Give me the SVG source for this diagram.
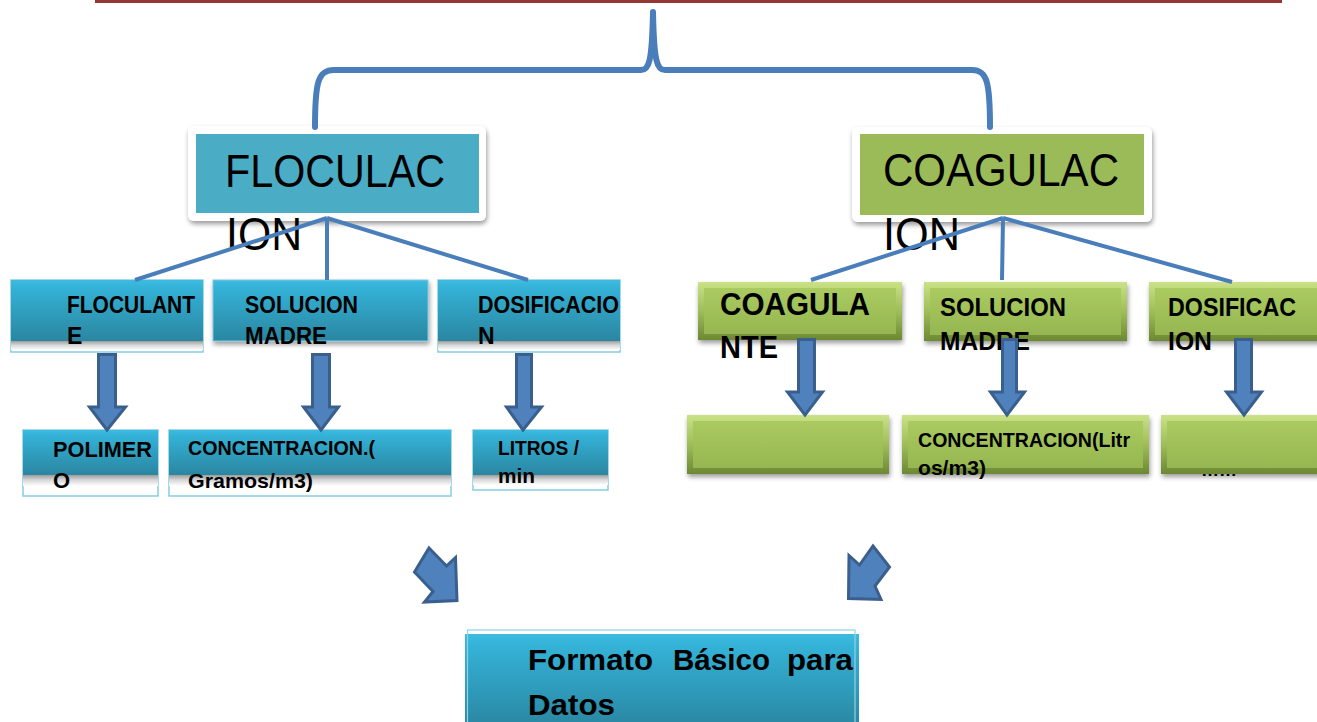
<svg xmlns="http://www.w3.org/2000/svg" width="1317" height="722" viewBox="0 0 1317 722">
<defs>
<style>
.b{font-family:"Liberation Sans",Arial,sans-serif;font-weight:bold;fill:#000}
.r{font-family:"Liberation Sans",Arial,sans-serif;fill:#000}
.frame{fill:#fff;stroke:#86cde4;stroke-width:1.5}
.ln{fill:none;stroke:#4a7ebb;stroke-width:4;stroke-linecap:butt}
.arr{fill:#4f81bd;stroke:#3a5f8c;stroke-width:3;stroke-linejoin:miter}
</style>
<linearGradient id="teal" x1="0" y1="0" x2="0" y2="1">
<stop offset="0" stop-color="#3fbbe0"/>
<stop offset="0.12" stop-color="#34b2d7"/>
<stop offset="1" stop-color="#2a86a1"/>
</linearGradient>
<linearGradient id="band" x1="0" y1="0" x2="0" y2="1">
<stop offset="0" stop-color="#9c9c9c"/>
<stop offset="0.45" stop-color="#d6d6d6"/>
<stop offset="1" stop-color="#ffffff"/>
</linearGradient>
<linearGradient id="gOut" x1="0" y1="0" x2="0" y2="1">
<stop offset="0" stop-color="#c9e286"/>
<stop offset="0.5" stop-color="#9ebe59"/>
<stop offset="1" stop-color="#6c8832"/>
</linearGradient>
<linearGradient id="gIn" x1="0" y1="0" x2="0" y2="1">
<stop offset="0" stop-color="#aacb60"/>
<stop offset="1" stop-color="#96b651"/>
</linearGradient>
<filter id="sh" x="-10%" y="-20%" width="125%" height="160%">
<feGaussianBlur in="SourceAlpha" stdDeviation="2.5"/>
<feOffset dx="1" dy="3"/>
<feComponentTransfer><feFuncA type="linear" slope="0.4"/></feComponentTransfer>
<feMerge><feMergeNode/><feMergeNode in="SourceGraphic"/></feMerge>
</filter>
</defs>

<rect width="1317" height="722" fill="#fff"/>
<line x1="95" y1="1.5" x2="1282" y2="1.5" stroke="#943634" stroke-width="3"/>

<g id="floculacion">
<rect x="188" y="126" width="298" height="95" rx="6" fill="#fff" filter="url(#sh)"/>
<rect x="196" y="134" width="283" height="79" fill="#4bacc6"/>
<text class="r" x="225" y="187" font-size="46" textLength="220" lengthAdjust="spacingAndGlyphs">FLOCULAC</text>
<text class="r" x="226" y="250" font-size="46" textLength="76" lengthAdjust="spacingAndGlyphs">ION</text>
</g>

<g id="coagulacion">
<rect x="852" y="127" width="300" height="95" rx="6" fill="#fff" filter="url(#sh)"/>
<rect x="860" y="134" width="284" height="81" fill="#9bbb59"/>
<text class="r" x="883" y="186" font-size="46" textLength="236" lengthAdjust="spacingAndGlyphs">COAGULAC</text>
<text class="r" x="883" y="250" font-size="46" textLength="77" lengthAdjust="spacingAndGlyphs">ION</text>
</g>

<g id="floculante">
<rect class="frame" x="11" y="280" width="192" height="72"/>
<rect x="11" y="280" width="192" height="61" fill="url(#teal)"/>
<rect x="11" y="341" width="192" height="9" fill="url(#band)"/>
<text class="b" x="67" y="313" font-size="23" textLength="128" lengthAdjust="spacingAndGlyphs">FLOCULANT</text>
<text class="b" x="67" y="344" font-size="23">E</text>
</g>

<g id="solucion-madre-f">
<rect x="213" y="280" width="215" height="61" fill="url(#teal)" stroke="#7fc8df" stroke-width="1" filter="url(#sh)"/>
<text class="b" x="245" y="313" font-size="23" textLength="113" lengthAdjust="spacingAndGlyphs">SOLUCION</text>
<text class="b" x="245" y="344" font-size="23" textLength="82" lengthAdjust="spacingAndGlyphs">MADRE</text>
</g>

<g id="dosificacion-f">
<rect class="frame" x="438" y="280" width="182" height="72"/>
<rect x="438" y="280" width="182" height="61" fill="url(#teal)"/>
<rect x="438" y="341" width="182" height="9" fill="url(#band)"/>
<text class="b" x="478" y="313" font-size="23" textLength="141" lengthAdjust="spacingAndGlyphs">DOSIFICACIO</text>
<text class="b" x="478" y="344" font-size="23">N</text>
</g>

<g id="polimero">
<rect class="frame" x="23" y="430" width="135" height="66"/>
<rect x="23" y="430" width="135" height="45" fill="url(#teal)"/>
<rect x="23" y="475" width="135" height="11" fill="url(#band)"/>
<text class="b" x="53" y="457" font-size="22" textLength="99" lengthAdjust="spacingAndGlyphs">POLIMER</text>
<text class="b" x="53" y="488" font-size="22">O</text>
</g>

<g id="concentracion-f">
<rect class="frame" x="169" y="430" width="282" height="66"/>
<rect x="169" y="430" width="282" height="45" fill="url(#teal)"/>
<rect x="169" y="475" width="282" height="11" fill="url(#band)"/>
<text class="b" x="188" y="455" font-size="21" textLength="187" lengthAdjust="spacingAndGlyphs">CONCENTRACION.(</text>
<text class="b" x="188" y="488" font-size="21" textLength="125" lengthAdjust="spacingAndGlyphs">Gramos/m3)</text>
</g>

<g id="litros">
<rect class="frame" x="473" y="430" width="135" height="60"/>
<rect x="473" y="430" width="135" height="45" fill="url(#teal)"/>
<rect x="473" y="475" width="135" height="10" fill="url(#band)"/>
<text class="b" x="498" y="455" font-size="21" textLength="81" lengthAdjust="spacingAndGlyphs">LITROS /</text>
<text class="b" x="498" y="483" font-size="21" textLength="37" lengthAdjust="spacingAndGlyphs">min</text>
</g>

<g id="coagulante">
<g filter="url(#sh)">
<rect x="698" y="282" width="204" height="58" fill="url(#gOut)"/>
<rect x="704" y="288" width="192" height="46" fill="url(#gIn)"/>
</g>
<text class="b" x="720" y="315" font-size="31" textLength="150" lengthAdjust="spacingAndGlyphs">COAGULA</text>
<text class="b" x="720" y="358" font-size="31" textLength="58" lengthAdjust="spacingAndGlyphs">NTE</text>
</g>

<g id="solucion-madre-c">
<g filter="url(#sh)">
<rect x="924" y="282" width="203" height="59" fill="url(#gOut)"/>
<rect x="930" y="288" width="191" height="47" fill="url(#gIn)"/>
</g>
<text class="b" x="940" y="316" font-size="25" textLength="126" lengthAdjust="spacingAndGlyphs">SOLUCION</text>
<text class="b" x="940" y="350" font-size="25" textLength="90" lengthAdjust="spacingAndGlyphs">MADRE</text>
</g>

<g id="dosificacion-c">
<g filter="url(#sh)">
<rect x="1149" y="282" width="180" height="59" fill="url(#gOut)"/>
<rect x="1155" y="288" width="168" height="47" fill="url(#gIn)"/>
</g>
<text class="b" x="1168" y="316" font-size="25" textLength="128" lengthAdjust="spacingAndGlyphs">DOSIFICAC</text>
<text class="b" x="1168" y="350" font-size="25" textLength="44" lengthAdjust="spacingAndGlyphs">ION</text>
</g>

<g id="coagulante-valor">
<g filter="url(#sh)">
<rect x="687" y="415" width="202" height="59" fill="url(#gOut)"/>
<rect x="693" y="421" width="190" height="47" fill="url(#gIn)"/>
</g>
</g>

<g id="concentracion-c">
<g filter="url(#sh)">
<rect x="902" y="415" width="247" height="59" fill="url(#gOut)"/>
<rect x="908" y="421" width="235" height="47" fill="url(#gIn)"/>
</g>
<text class="b" x="918" y="447" font-size="21" textLength="212" lengthAdjust="spacingAndGlyphs">CONCENTRACION(Litr</text>
<text class="b" x="918" y="475" font-size="21" textLength="68" lengthAdjust="spacingAndGlyphs">os/m3)</text>
</g>

<g id="dosificacion-valor">
<text class="b" x="1201" y="475.5" font-size="20" textLength="36" lengthAdjust="spacingAndGlyphs">……</text>
<g filter="url(#sh)">
<rect x="1161" y="415" width="170" height="59" fill="url(#gOut)"/>
<rect x="1167" y="421" width="158" height="47" fill="url(#gIn)"/>
</g>
</g>

<g id="formato">
<rect x="465" y="634" width="394" height="95" fill="url(#teal)"/>
<rect x="467.5" y="630" width="387.5" height="100" fill="none" stroke="#8fd3e8" stroke-width="1.2"/>
<text class="b" y="670" font-size="30"><tspan x="528" textLength="125" lengthAdjust="spacingAndGlyphs">Formato</tspan><tspan x="673" textLength="97" lengthAdjust="spacingAndGlyphs">Básico</tspan><tspan x="787" textLength="66" lengthAdjust="spacingAndGlyphs">para</tspan></text>
<text class="b" x="528" y="715" font-size="30" textLength="87" lengthAdjust="spacingAndGlyphs">Datos</text>
</g>

<g id="connectors">
<path d="M315,127 C315,82 318,70 334,70 L641,70 C649,70 652,62 653,12 C654,62 657,70 665,70 L972,70 C987,70 990,82 990,127" fill="none" stroke="#4a7ebb" stroke-width="6" stroke-linecap="round" stroke-linejoin="round"/>
<path class="ln" d="M327,218 L135,280 M327,218 L327,280 M327,218 L528,280"/>
<path class="ln" d="M1003,218 L811,280 M1003,218 L1002,280 M1003,218 L1232,282"/>
<polygon class="arr" points="98.5,354.5 115.5,354.5 115.5,407 125.5,407 107,430 89.5,407 98.5,407"/>
<polygon class="arr" points="312.5,354.5 329.5,354.5 329.5,407 338.5,407 321,430 303.5,407 312.5,407"/>
<polygon class="arr" points="516.5,354.5 531.5,354.5 531.5,407 541.5,407 523,430 506.5,407 516.5,407"/>
<polygon class="arr" points="798.5,339.5 814.5,339.5 814.5,392 822.5,392 805,415 787.5,392 798.5,392"/>
<polygon class="arr" points="1002.5,339.5 1016.5,339.5 1016.5,392 1024.5,392 1007,415 990.5,392 1002.5,392"/>
<polygon class="arr" points="1235.5,339.5 1251.5,339.5 1251.5,392 1261.5,392 1244,415 1226.5,392 1235.5,392"/>
<polygon class="arr" points="429,548 446.5,566 455.5,557.5 457,600.5 424.5,602 433,591.5 414.5,572"/>
<polygon class="arr" points="873,546 889.5,567 875,586 881,599.5 848.5,598.5 849,555.5 859.5,565"/>
</g>
</svg>
